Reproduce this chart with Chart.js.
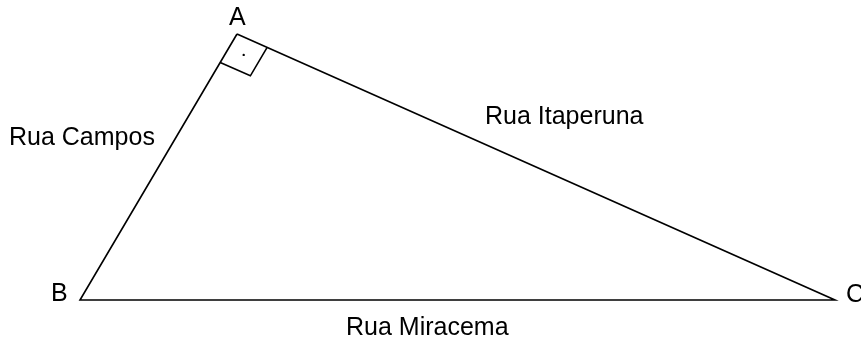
<!DOCTYPE html>
<html>
<head>
<meta charset="utf-8">
<script src="https://cdn.jsdelivr.net/npm/chart.js@4"></script>
<style>
  html, body { margin: 0; padding: 0; background: #fff; overflow: hidden; }
  #c { display: block; }
</style>
</head>
<body>
<canvas id="c" width="861" height="338"></canvas>
<script>
// Vertices of the triangle (drawing units, y grows downward)
const vertexNames = ['A', 'B', 'C'];
const vertexX = [237, 80, 835];
const vertexY = [34, 300, 300];

// Vertex label anchors (left, baseline)
const vertexLabelX = [229, 51, 846];
const vertexLabelY = [25, 301, 302];

// Street names (sides) and their anchors (left, baseline)
const streetNames = ['Rua Campos', 'Rua Itaperuna', 'Rua Miracema'];
const streetX = [9, 485, 346];
const streetY = [145, 124, 335];

// Right-angle marker size (drawing units)
const markerSize = 33;

// Build triangle outline
const triangle = [0, 1, 2, 0].map(i => ({ x: vertexX[i], y: vertexY[i] }));

// Right angle marker at A, built from the sides AB and AC
function unit(i, j) {
  const dx = vertexX[j] - vertexX[i], dy = vertexY[j] - vertexY[i];
  const l = Math.hypot(dx, dy);
  return [dx / l, dy / l];
}
const uAB = unit(0, 1), uAC = unit(0, 2);
const Ax = vertexX[0], Ay = vertexY[0];
const marker = [
  { x: Ax + uAB[0] * markerSize, y: Ay + uAB[1] * markerSize },
  { x: Ax + (uAB[0] + uAC[0]) * markerSize, y: Ay + (uAB[1] + uAC[1]) * markerSize },
  { x: Ax + uAC[0] * markerSize, y: Ay + uAC[1] * markerSize }
];
const dot = [{ x: Ax + (uAB[0] + uAC[0]) * markerSize / 2, y: Ay + (uAB[1] + uAC[1]) * markerSize / 2 }];

const textPlugin = {
  id: 'texts',
  afterDatasetsDraw(chart) {
    const ctx = chart.ctx, xs = chart.scales.x, ys = chart.scales.y;
    ctx.save();
    ctx.fillStyle = '#000';
    ctx.font = '25px "Liberation Sans", Arial, sans-serif';
    ctx.textAlign = 'left';
    ctx.textBaseline = 'alphabetic';
    vertexNames.forEach((t, i) => {
      ctx.fillText(t, xs.getPixelForValue(vertexLabelX[i]), ys.getPixelForValue(vertexLabelY[i]));
    });
    streetNames.forEach((t, i) => {
      ctx.fillText(t, xs.getPixelForValue(streetX[i]), ys.getPixelForValue(streetY[i]));
    });
    ctx.restore();
  }
};

new Chart(document.getElementById('c'), {
  type: 'scatter',
  data: {
    datasets: [
      { data: triangle, showLine: true, borderColor: '#000', borderWidth: 1.6, pointRadius: 0, fill: false, tension: 0 },
      { data: marker, showLine: true, borderColor: '#000', borderWidth: 1.6, pointRadius: 0, fill: false, tension: 0 },
      { data: dot, showLine: false, pointRadius: 1.2, pointBackgroundColor: '#000', pointBorderWidth: 0 }
    ]
  },
  options: {
    responsive: false,
    animation: false,
    events: [],
    layout: { padding: 0, autoPadding: false },
    plugins: { legend: { display: false }, tooltip: { enabled: false } },
    scales: {
      x: { type: 'linear', min: 0, max: 861, display: false },
      y: { type: 'linear', min: 0, max: 338, reverse: true, display: false }
    }
  },
  plugins: [textPlugin]
});
</script>
</body>
</html>
